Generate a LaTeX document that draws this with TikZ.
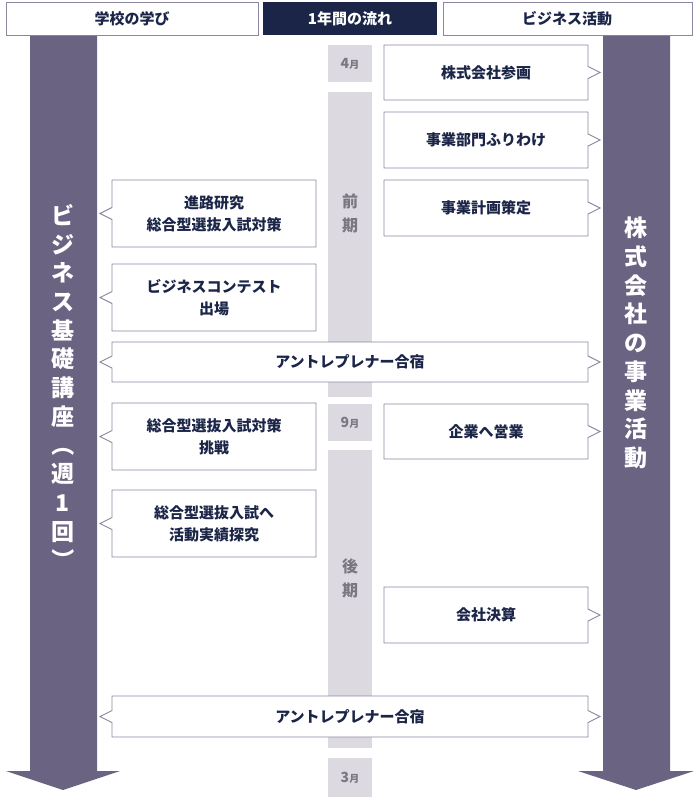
\documentclass[tikz,border=0pt]{standalone}
\usepackage{fontspec}
\newfontfamily\cjk{Noto Sans CJK JP}
\definecolor{navy}{HTML}{1B2548}
\definecolor{bord}{HTML}{8C86A0}
\definecolor{arr}{HTML}{6B6382}
\definecolor{tl}{HTML}{DCD9E0}
\definecolor{mon}{HTML}{7A7780}
\tikzset{
 boxline/.style={draw=bord,fill=white,line width=0.9pt},
 txt/.style={font=\cjk\bfseries\fontsize{15}{22}\selectfont,text=navy,align=center},
 montxt/.style={font=\cjk\bfseries\fontsize{14}{16}\selectfont,text=mon},
 kitxt/.style={font=\cjk\bfseries\fontsize{16}{24}\selectfont,text=mon,align=center},
 vtxt/.style={font=\cjk\bfseries\fontsize{23}{28.7}\selectfont,text=white,align=center},
}
\newcommand\tsuki{{\fontsize{10}{12}\selectfont 月}}
\newcommand\myrbox[6]{%
 \draw[boxline] (#2,#3) -- (#4,#3) -- (#4,{(#3+#5)/2-6}) -- (#4+12,{(#3+#5)/2}) -- (#4,{(#3+#5)/2+6}) -- (#4,#5) -- (#2,#5) -- cycle;
 \node[txt] (#1) at ({(#2+#4)/2},{(#3+#5)/2}) {#6};}
\newcommand\mylbox[6]{%
 \draw[boxline] (#2,#3) -- (#4,#3) -- (#4,#5) -- (#2,#5) -- (#2,{(#3+#5)/2+6}) -- (#2-12,{(#3+#5)/2}) -- (#2,{(#3+#5)/2-6}) -- cycle;
 \node[txt] (#1) at ({(#2+#4)/2},{(#3+#5)/2}) {#6};}
\newcommand\mybbox[6]{%
 \draw[boxline] (#2,#3) -- (#4,#3) -- (#4,{(#3+#5)/2-6}) -- (#4+12,{(#3+#5)/2}) -- (#4,{(#3+#5)/2+6}) -- (#4,#5) -- (#2,#5) -- (#2,{(#3+#5)/2+6}) -- (#2-12,{(#3+#5)/2}) -- (#2,{(#3+#5)/2-6}) -- cycle;
 \node[txt] (#1) at ({(#2+#4)/2},{(#3+#5)/2}) {#6};}
\begin{document}
\begin{tikzpicture}[x=1pt,y=-1pt]
\useasboundingbox (0,0) rectangle (700,800);
\draw[boxline] (6,2) rectangle (258,35);
\node[txt] (h1) at (132,18.5) {学校の学び};
\fill[navy] (263,2) rectangle (437,35);
\node[txt,text=white] (h2) at (350,18.5) {1年間の流れ};
\draw[boxline] (443,2) rectangle (692,35);
\node[txt] (h3) at (567,18.5) {ビジネス活動};
\fill[arr] (30,36) -- (97,36) -- (97,771) -- (120,771) -- (63,790) -- (6,771) -- (30,771) -- cycle;
\fill[arr] (603,36) -- (670,36) -- (670,771) -- (694,771) -- (636,790) -- (578,771) -- (603,771) -- cycle;
\node[vtxt] (lv) at (63,388) {ビ\\ジ\\ネ\\ス\\基\\礎\\講\\座\\\rotatebox[origin=c]{-90}{（}\\週\\1\\回\\\rotatebox[origin=c]{-90}{）}};
\node[vtxt] (rv) at (636,343) {株\\式\\会\\社\\の\\事\\業\\活\\動};
\fill[tl] (328,45) rectangle (372,82);
\node[montxt] (m4) at (350,64) {4\tsuki};
\fill[tl] (328,92) rectangle (372,397);
\node[kitxt] (zenki) at (350,213) {前\\期};
\fill[tl] (328,404) rectangle (372,441);
\node[montxt] (m9) at (350,423) {9\tsuki};
\fill[tl] (328,450) rectangle (372,748);
\node[kitxt] (kouki) at (350,578) {後\\期};
\fill[tl] (328,758) rectangle (372,797);
\node[montxt] (m3) at (350,778) {3\tsuki};
\myrbox{r1}{384}{45}{588}{100}{株式会社参画}
\myrbox{r2}{384}{112}{588}{168}{事業部門ふりわけ}
\myrbox{r3}{384}{180}{588}{236}{事業計画策定}
\myrbox{r4}{384}{404}{588}{459}{企業へ営業}
\myrbox{r5}{384}{587}{588}{643}{会社決算}
\mylbox{l1}{112}{180}{316}{247}{進路研究\\総合型選抜入試対策}
\mylbox{l2}{112}{264}{316}{331}{ビジネスコンテスト\\出場}
\mylbox{l3}{112}{403}{316}{470}{総合型選抜入試対策\\挑戦}
\mylbox{l4}{112}{490}{316}{557}{総合型選抜入試へ\\活動実績探究}
\mybbox{w1}{112}{342}{588}{382}{アントレプレナー合宿}
\mybbox{w2}{112}{696}{588}{737}{アントレプレナー合宿}
\end{tikzpicture}
\end{document}
